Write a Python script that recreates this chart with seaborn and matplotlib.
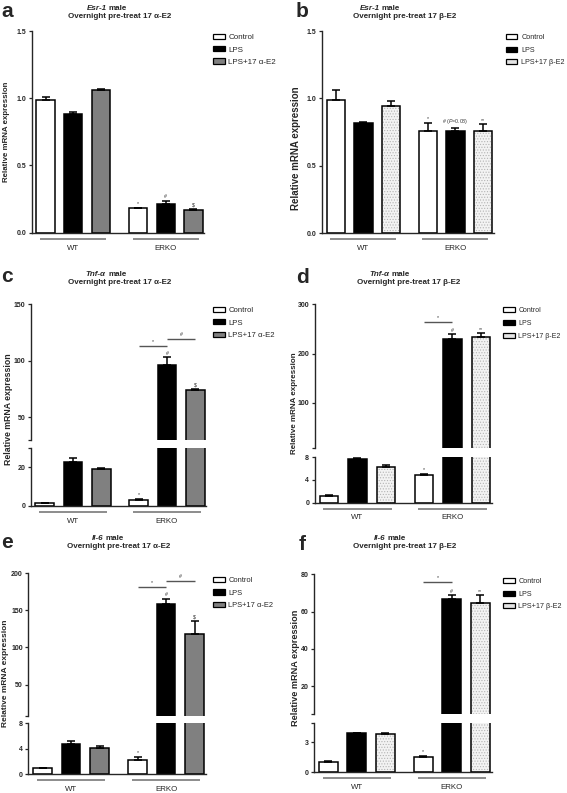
#!/usr/bin/env python3
"""Esr-1, Tnf-a and Il-6 expression in WT and ERKO males, six bar panels."""

import matplotlib
matplotlib.use("Agg")
import matplotlib.pyplot as plt
import numpy as np
import pandas as pd
import seaborn as sns
from matplotlib.patches import Patch, Rectangle
from matplotlib.transforms import ScaledTranslation, blended_transform_factory

W, H, DPI = 567, 793, 100

GENOTYPES = ["WT", "ERKO"]
TREAT_ALPHA = ["Control", "LPS", "LPS+17 α-E2"]
TREAT_BETA = ["Control", "LPS", "LPS+17 β-E2"]

# order: WT Control, WT LPS, WT LPS+E2, ERKO Control, ERKO LPS, ERKO LPS+E2
ESR1_ALPHA_MEAN = [0.99, 0.885, 1.06, 0.18, 0.21, 0.17]
ESR1_ALPHA_SEM = [0.02, 0.012, 0.005, 0.006, 0.026, 0.008]
ESR1_BETA_MEAN = [0.99, 0.82, 0.94, 0.76, 0.757, 0.76]
ESR1_BETA_SEM = [0.07, 0.006, 0.04, 0.06, 0.025, 0.047]
TNF_ALPHA_MEAN = [1.2, 22.6, 19.2, 2.8, 96.5, 74.6]
TNF_ALPHA_SEM = [0.2, 2.0, 0.4, 0.7, 6.7, 0.5]
TNF_BETA_MEAN = [1.1, 7.7, 6.2, 4.8, 229.0, 234.0]
TNF_BETA_SEM = [0.15, 0.2, 0.45, 0.2, 10.0, 7.0]
IL6_ALPHA_MEAN = [1.0, 4.7, 4.2, 2.3, 159.0, 118.0]
IL6_ALPHA_SEM = [0.05, 0.6, 0.3, 0.45, 6.5, 17.5]
IL6_BETA_MEAN = [1.04, 3.9, 3.8, 1.55, 67.0, 64.8]
IL6_BETA_SEM = [0.08, 0.03, 0.1, 0.1, 1.8, 4.0]

MARKS_ALPHA = ["", "", "", "*", "#", "$"]
MARKS_ESR1_BETA = ["", "", "", "*", "# ($\\it{P}$=0.08)", "**"]
MARKS_BETA = ["", "", "", "*", "#", "**"]

# (from bar, to bar, height, symbol)
BRACKETS_TNF_ALPHA = [(3, 4, 113, "*"), (4, 5, 119, "#")]
BRACKETS_TNF_BETA = [(3, 4, 264, "*")]
BRACKETS_IL6_ALPHA = [(3, 4, 181, "*"), (4, 5, 190, "#")]
BRACKETS_IL6_BETA = [(3, 4, 76, "*")]

FILL = {"Control": "white", "LPS": "black", "LPS+17 α-E2": "#808080", "LPS+17 β-E2": "#f3f3f3"}
XLIM = (-0.45, 1.42)

# segment: (ymin, ymax, top px, bottom px, ticks, tick labels)
PANELS = [
    dict(letter="a", letter_xy=(1, 17), gene="Esr-1", treat=TREAT_ALPHA,
         mean=ESR1_ALPHA_MEAN, sem=ESR1_ALPHA_SEM, marks=MARKS_ALPHA, brackets=[],
         left=31.7, spacing=92.4,
         segs=[(0, 1.5, 31, 232.7, [0, 0.5, 1, 1.5], ["0.0", "0.5", "1.0", "1.5"])],
         title_x=(106.7, 120), title_y=(9.5, 17.5), ylab=(6.5, 132, 5.7), legend=(213, 34, 5.8)),
    dict(letter="b", letter_xy=(296, 17), gene="Esr-1", treat=TREAT_BETA,
         mean=ESR1_BETA_MEAN, sem=ESR1_BETA_SEM, marks=MARKS_ESR1_BETA, brackets=[],
         left=322, spacing=92,
         segs=[(0, 1.5, 31, 233, [0, 0.5, 1, 1.5], ["0.0", "0.5", "1.0", "1.5"])],
         title_x=(379.7, 405), title_y=(9.5, 17.5), ylab=(296.3, 148, 7.0), legend=(505.7, 34, 5.2)),
    dict(letter="c", letter_xy=(1, 282), gene="Tnf-α", treat=TREAT_ALPHA,
         mean=TNF_ALPHA_MEAN, sem=TNF_ALPHA_SEM, marks=MARKS_ALPHA, brackets=BRACKETS_TNF_ALPHA,
         left=30.7, spacing=94,
         segs=[(30, 150, 304.3, 440, [30, 50, 100, 150], ["", "50", "100", "150"]),
               (0, 30, 447.7, 505.7, [0, 20, 30], ["0", "20", ""])],
         title_x=(106, 119.5), title_y=(276, 283.5), ylab=(8.3, 409, 6.3), legend=(213, 307, 5.6)),
    dict(letter="d", letter_xy=(296, 283), gene="Tnf-α", treat=TREAT_BETA,
         mean=TNF_BETA_MEAN, sem=TNF_BETA_SEM, marks=MARKS_BETA, brackets=BRACKETS_TNF_BETA,
         left=314.7, spacing=95,
         segs=[(8, 300, 304.3, 448.3, [8, 100, 200, 300], ["", "100", "200", "300"]),
               (0, 8, 457, 502.5, [0, 4, 8], ["0", "4", "8"])],
         title_x=(389.5, 409), title_y=(276, 283.5), ylab=(294.5, 403, 5.8), legend=(503, 307, 5.0)),
    dict(letter="e", letter_xy=(1, 548), gene="Il-6", treat=TREAT_ALPHA,
         mean=IL6_ALPHA_MEAN, sem=IL6_ALPHA_SEM, marks=MARKS_ALPHA, brackets=BRACKETS_IL6_ALPHA,
         left=28.3, spacing=95,
         segs=[(8, 200, 573.3, 715.7, [8, 50, 100, 150, 200], ["", "50", "100", "150", "200"]),
               (0, 8, 723.3, 774.3, [0, 4, 8], ["0", "4", "8"])],
         title_x=(108, 119), title_y=(540, 548), ylab=(5.8, 673, 6.0), legend=(213, 577, 5.4)),
    dict(letter="f", letter_xy=(299, 550), gene="Il-6", treat=TREAT_BETA,
         mean=IL6_BETA_MEAN, sem=IL6_BETA_SEM, marks=MARKS_BETA, brackets=BRACKETS_IL6_BETA,
         left=314, spacing=95,
         segs=[(5, 80, 574.3, 714.3, [5, 20, 40, 60, 80], ["", "20", "40", "60", "80"]),
               (0, 5, 722.5, 772.3, [0, 3, 5], ["0", "3", ""])],
         title_x=(390, 405), title_y=(540, 548), ylab=(295, 668, 6.6), legend=(503, 578, 5.2)),
]

sns.set_style("ticks")
plt.rcParams["font.family"] = ["Liberation Sans", "DejaVu Sans"]
plt.rcParams["mathtext.fontset"] = "custom"
plt.rcParams["mathtext.it"] = "Liberation Sans:italic"
plt.rcParams["mathtext.rm"] = "Liberation Sans"
plt.rcParams["hatch.linewidth"] = 0.5


def px_axes(fig, left, right, top, bottom):
    return fig.add_axes([left / W, 1 - bottom / H, (right - left) / W, (bottom - top) / H])


def draw_bars(ax, spec, ymin):
    df = pd.DataFrame({
        "genotype": np.repeat(GENOTYPES, 3),
        "treatment": spec["treat"] * 2,
        "value": spec["mean"],
    })
    sns.barplot(data=df, x="genotype", y="value", hue="treatment", order=GENOTYPES,
                hue_order=spec["treat"], palette=[FILL[t] for t in spec["treat"]],
                saturation=1, width=0.9, gap=0.34, errorbar=None, edgecolor="black",
                linewidth=1.1, legend=False, ax=ax)
    centers = np.zeros(6)
    edges = np.zeros((6, 2))
    for h, cont in enumerate(ax.containers[:3]):
        for g, bar in enumerate(cont):
            i = g * 3 + h
            centers[i] = bar.get_x() + bar.get_width() / 2
            edges[i] = (bar.get_x(), bar.get_x() + bar.get_width())
            if bar.get_height() <= ymin:
                # bar ends below this segment of a broken axis
                bar.set_visible(False)
                continue
            if "β" in spec["treat"][h]:
                bar.set_hatch("......")
                bar.set_edgecolor("#b4b4b4")
                bar.set_linewidth(0)
                ax.add_patch(Rectangle(bar.get_xy(), bar.get_width(), bar.get_height(),
                                       fill=False, edgecolor="black", linewidth=1.1,
                                       zorder=bar.get_zorder() + 0.5))
    mean = np.asarray(spec["mean"])
    sem = np.asarray(spec["sem"])
    keep = mean + sem > ymin
    ax.errorbar(centers[keep], mean[keep], yerr=[np.zeros(keep.sum()), sem[keep]], fmt="none",
                ecolor="black", elinewidth=1.1, capsize=2.9, capthick=1.1, zorder=4)
    return centers, edges


def gene_title(fig, cx, cy, gene, size=5.8):
    renderer = fig.canvas.get_renderer()
    t1 = fig.text(0, 1 - cy / H, gene, fontsize=size, fontweight="bold",
                  fontstyle="italic", va="baseline")
    t2 = fig.text(0, 1 - cy / H, "male", fontsize=size, fontweight="bold", va="baseline")
    w1 = t1.get_window_extent(renderer).width
    w2 = t2.get_window_extent(renderer).width
    gap = 0.28 * size * DPI / 72
    x0 = cx - (w1 + gap + w2) / 2
    t1.set_x(x0 / W)
    t2.set_x((x0 + w1 + gap) / W)


def draw_panel(fig, spec):
    right = spec["left"] + (XLIM[1] - XLIM[0]) * spec["spacing"]
    axes = []
    for k, (y0, y1, top, bottom, ticks, labels) in enumerate(spec["segs"]):
        ax = px_axes(fig, spec["left"], right, top, bottom)
        centers, edges = draw_bars(ax, spec, y0)
        ax.set_xlim(*XLIM)
        ax.set_ylim(y0, y1)
        ax.set_yticks(ticks, labels, fontweight="bold")
        ax.tick_params(axis="y", length=2.5, width=0.9, labelsize=5, pad=1.5)
        ax.set_xlabel("")
        ax.set_ylabel("")
        for side in ("top", "right"):
            ax.spines[side].set_visible(False)
        for side in ("left", "bottom"):
            ax.spines[side].set_linewidth(1.0)
        last = k == len(spec["segs"]) - 1
        if not last:
            ax.spines["bottom"].set_visible(False)
            ax.set_xticks([])
        else:
            ax.tick_params(axis="x", length=0, labelsize=5.7, pad=8.5)
        axes.append((ax, y0, y1))

    # significance marks above bars
    for i, sym in enumerate(spec["marks"]):
        if not sym:
            continue
        y = spec["mean"][i] + spec["sem"][i]
        ax = next(a for a, lo, hi in axes if lo <= y <= hi)
        ax.annotate(sym, (centers[i], y), xytext=(0, 1.2), textcoords="offset points",
                    ha="center", va="bottom", fontsize=3.8, color="#333333")

    top_ax = axes[0][0]
    for a, b, y, sym in spec["brackets"]:
        top_ax.plot([centers[a], centers[b]], [y, y], color="#555555", lw=1.0,
                    solid_capstyle="butt")
        top_ax.annotate(sym, ((centers[a] + centers[b]) / 2, y), xytext=(0, 1.5),
                        textcoords="offset points", ha="center", va="bottom",
                        fontsize=3.8, color="#333333")

    # group underlines below the x axis
    bot_ax = axes[-1][0]
    trans = blended_transform_factory(bot_ax.transData, bot_ax.transAxes) + \
        ScaledTranslation(0, -6 / DPI, fig.dpi_scale_trans)
    inset = 0.04
    for g in range(2):
        x0 = edges[g * 3][0] + inset
        x1 = edges[g * 3 + 2][1] - inset
        bot_ax.plot([x0, x1], [0, 0], color="#6e6e6e", lw=1.1, transform=trans,
                    clip_on=False, solid_capstyle="butt")

    handles = [Patch(facecolor=FILL[t] if "β" not in t else "#e4e4e4",
                     edgecolor="black", linewidth=0.9) for t in spec["treat"]]
    lx, ly, lfs = spec["legend"]
    fs_px = lfs * DPI / 72
    top_ax.legend(handles, spec["treat"], loc="upper left", bbox_to_anchor=(lx / W, 1 - ly / H),
                  bbox_transform=fig.transFigure, frameon=False, fontsize=lfs,
                  handlelength=11.5 / fs_px, handleheight=5 / fs_px, handletextpad=4 / fs_px,
                  labelspacing=12.3 / fs_px - 0.94, borderpad=0, borderaxespad=0)

    gene_title(fig, spec["title_x"][0], spec["title_y"][0], spec["gene"])
    treat_word = "α" if "α" in spec["treat"][2] else "β"
    fig.text(spec["title_x"][1] / W, 1 - spec["title_y"][1] / H,
             f"Overnight pre-treat 17 {treat_word}-E2", fontsize=5.8, fontweight="bold",
             ha="center", va="baseline")
    yx, yy, ysize = spec["ylab"]
    fig.text(yx / W, 1 - yy / H, "Relative mRNA expression", rotation=90, ha="center",
             va="center", fontsize=ysize, fontweight="bold")
    lx, ly = spec["letter_xy"]
    fig.text(lx / W, 1 - ly / H, spec["letter"], fontsize=15, fontweight="bold",
             ha="left", va="baseline")


def main() -> None:
    fig = plt.figure(figsize=(W / DPI, H / DPI), dpi=DPI)
    for spec in PANELS:
        draw_panel(fig, spec)
    fig.savefig("out.png", dpi=DPI, facecolor="white")
    plt.close(fig)


if __name__ == "__main__":
    main()
